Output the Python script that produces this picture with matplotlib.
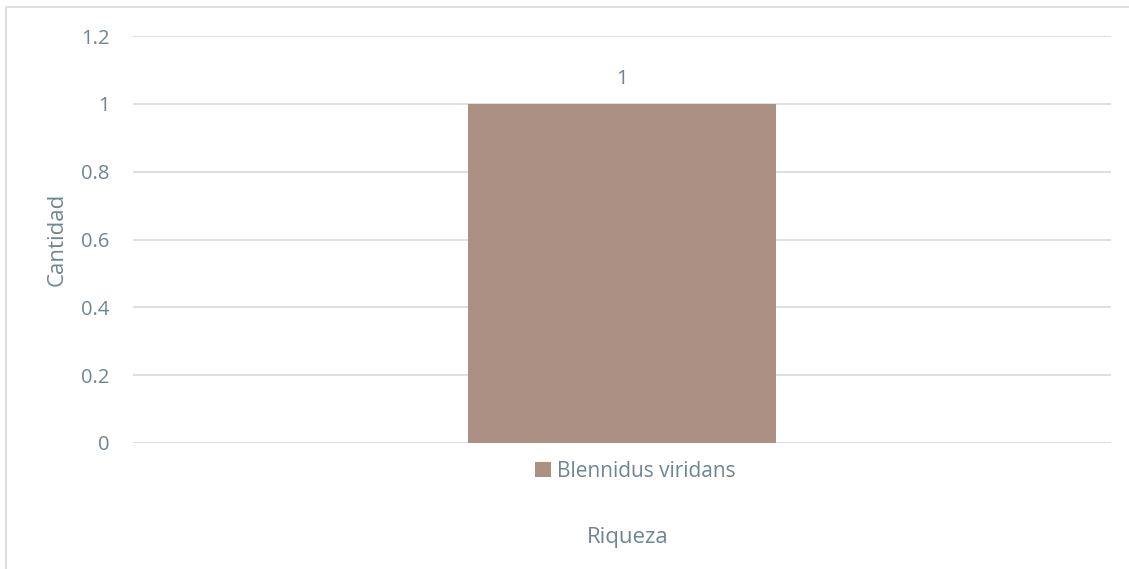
import matplotlib.pyplot as plt
from matplotlib.patches import Rectangle

categories = ['Riqueza']
series_name = 'Blennidus viridans'
values = [1]
yticks = [0, 0.2, 0.4, 0.6, 0.8, 1, 1.2]
ytick_labels = ['0', '0.2', '0.4', '0.6', '0.8', '1', '1.2']

text_col = '#6E8594'
bar_col = '#AB9083'
grid_col = '#D9DDE1'

plt.rcParams['font.family'] = ['Open Sans', 'DejaVu Sans']

fig = plt.figure(figsize=(11.29, 5.69), dpi=100)
ax = fig.add_axes([133 / 1129, 1 - 443 / 569, 978 / 1129, 407 / 569])

bars = ax.bar(range(len(categories)), values, width=0.314, color=bar_col,
              label=series_name, zorder=3)
ax.bar_label(bars, labels=[f'{v:g}' for v in values], padding=11,
             color=text_col, fontsize=14.5)

ax.set_xlim(-0.5, 0.5)
ax.set_ylim(0, 1.2)
ax.set_yticks(yticks)
ax.set_yticklabels(ytick_labels)
ax.set_xticks([])
ax.tick_params(axis='y', length=0, pad=17, labelsize=14.5, labelcolor=text_col)
ax.grid(axis='y', color=grid_col, linewidth=1.3, zorder=0)
for s in ax.spines.values():
    s.set_visible(False)
ax.axhline(0, color=grid_col, linewidth=1.3, zorder=2)

ax.set_ylabel('Cantidad', color=text_col, fontsize=16)
ax.yaxis.set_label_coords(-0.0664, 0.5)
fig.text(628 / 1129, 1 - 538 / 569, categories[0], color=text_col,
         fontsize=16, ha='center', va='center')

leg = ax.legend(loc='center', bbox_to_anchor=(0.514, -0.07), frameon=False,
                handlelength=0.75, handleheight=0.75, handletextpad=0.3,
                fontsize=15)
for t in leg.get_texts():
    t.set_color(text_col)

fig.patches.append(Rectangle((6 / 1129, -0.05), 1.1, 1 - 7 / 569 + 0.05,
                             transform=fig.transFigure, fill=False,
                             edgecolor='#D9D9D9', linewidth=1.2))

fig.savefig('out.png', dpi=100)
